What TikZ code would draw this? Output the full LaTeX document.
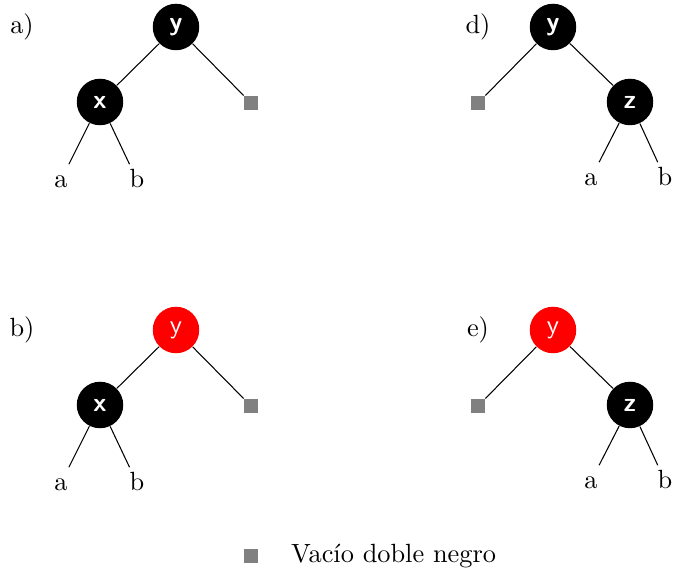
\documentclass[tikz,border=0pt]{standalone}
\usepackage{tikz}
\usetikzlibrary{positioning}
\usepackage{xcolor}
\definecolor{rojonodo}{RGB}{255,0,0}
\definecolor{grisvacio}{RGB}{128,128,128}

\begin{document}
\begin{tikzpicture}[x=0.01333cm, y=-0.01333cm,
    negro/.style={circle, fill=black, text=white, minimum size=0.62cm,
                  inner sep=0pt, font=\sffamily\bfseries},
    rojo/.style={circle, fill=rojonodo, text=white, minimum size=0.62cm,
                 inner sep=0pt, font=\sffamily},
    vacio/.style={rectangle, fill=grisvacio, minimum size=0.185cm, inner sep=0pt},
    hoja/.style={text height=1.5ex, text depth=0.25ex, inner sep=2pt}]

    % Marco de la figura
    \useasboundingbox (0,0) rectangle (674,569);

    % Dos filas: a)/d) con raiz negra, b)/e) con raiz roja
    \foreach \f/\dy/\raiz/\lizq/\lder in {1/0/negro/a)/d), 2/303/rojo/b)/e)} {

      % Arbol izquierdo (vacio a la derecha)
      \node (li\f) at (22,27+\dy) {\lizq};
      \node[\raiz] (yi\f) at (176,27+\dy) {y};
      \node[negro] (x\f) at (100,102+\dy) {x};
      \node[vacio] (vi\f) at (251,103+\dy) {};
      \node[hoja] (ai\f) at (61,180+\dy) {a};
      \node[hoja] (bi\f) at (137,180+\dy) {b};
      \draw (yi\f) -- (x\f);
      \draw (yi\f) -- (vi\f);
      \draw (x\f) -- (ai\f);
      \draw (x\f) -- (bi\f);

      % Arbol derecho (vacio a la izquierda)
      \node (ld\f) at (478,27+\dy) {\lder};
      \node[\raiz] (yd\f) at (553,27+\dy) {y};
      \node[vacio] (vd\f) at (478,103+\dy) {};
      \node[negro] (z\f) at (630,102+\dy) {z};
      \node[hoja] (ad\f) at (591,178+\dy) {a};
      \node[hoja] (bd\f) at (665,178+\dy) {b};
      \draw (yd\f) -- (vd\f);
      \draw (yd\f) -- (z\f);
      \draw (z\f) -- (ad\f);
      \draw (z\f) -- (bd\f);
    }

    % Leyenda
    \node[vacio] (leyenda) at (251,556) {};
    \node[right=0.31cm of leyenda] (textoley) {Vacío doble negro};

\end{tikzpicture}
\end{document}
